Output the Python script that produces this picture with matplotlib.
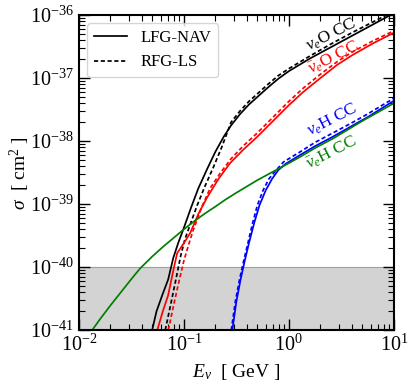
import numpy as np
import matplotlib
matplotlib.use("Agg")
import matplotlib.pyplot as plt

plt.rcParams['font.family'] = ['Liberation Serif', 'DejaVu Serif']
plt.rcParams['mathtext.fontset'] = 'custom'
plt.rcParams['mathtext.rm'] = 'Liberation Serif'
plt.rcParams['mathtext.it'] = 'Liberation Serif:italic'
plt.rcParams['mathtext.bf'] = 'Liberation Serif:bold'

# ---- data: log10(E/GeV), log10(sigma/cm^2) ----
nueO_lfg_logE = [-1.302, -1.26, -1.2, -1.15, -1.1, -1.05, -1.007, -0.93, -0.862, -0.78, -0.7, -0.62, -0.55, -0.464, -0.38, -0.3, -0.2, -0.1, 0.0, 0.2, 0.4, 0.6, 0.8, 1.0]
nueO_lfg_logS = [-41.0, -40.7, -40.42, -40.2, -39.85, -39.6, -39.41, -39.05, -38.75, -38.45, -38.17, -37.93, -37.75, -37.57, -37.42, -37.3, -37.15, -37.01, -36.89, -36.69, -36.51, -36.33, -36.15, -35.97]
nueO_rfg_logE = [-1.177, -1.12, -1.07, -1.03, -0.99, -0.93, -0.873, -0.8, -0.72, -0.64, -0.55, -0.464, -0.38, -0.3, -0.2, -0.1, 0.0, 0.2, 0.4, 0.6, 0.8, 1.0]
nueO_rfg_logS = [-41.0, -40.55, -40.15, -39.82, -39.56, -39.28, -39.02, -38.72, -38.42, -38.1, -37.7, -37.52, -37.37, -37.25, -37.1, -36.96, -36.85, -36.65, -36.46, -36.28, -36.11, -35.94]

anueO_lfg_logE = [-1.253, -1.2, -1.15, -1.1, -1.064, -1.0, -0.94, -0.86, -0.777, -0.67, -0.56, -0.43, -0.3, -0.15, 0.0, 0.137, 0.3, 0.46, 0.6, 0.8, 1.0]
anueO_lfg_logS = [-41.0, -40.7, -40.45, -40.05, -39.78, -39.62, -39.46, -39.15, -38.89, -38.6, -38.35, -38.13, -37.93, -37.68, -37.43, -37.22, -37.0, -36.79, -36.64, -36.45, -36.28]
anueO_rfg_logE = [-1.148, -1.09, -1.044, -1.0, -0.95, -0.91, -0.83, -0.75, -0.65, -0.55, -0.43, -0.3, -0.15, 0.0, 0.137, 0.3, 0.46, 0.6, 0.8, 1.0]
anueO_rfg_logS = [-41.0, -40.55, -40.21, -39.9, -39.62, -39.41, -39.05, -38.75, -38.5, -38.28, -38.07, -37.87, -37.62, -37.37, -37.16, -36.94, -36.74, -36.59, -36.41, -36.25]

nueH_lfg_logE = [-0.538, -0.5, -0.46, -0.42, -0.38, -0.33, -0.28, -0.22, -0.16, -0.1, -0.03, 0.108, 0.25, 0.42, 0.6, 0.75, 1.0]
nueH_lfg_logS = [-41.0, -40.55, -40.2, -39.9, -39.62, -39.3, -39.02, -38.78, -38.6, -38.46, -38.36, -38.22, -38.08, -37.93, -37.76, -37.62, -37.36]
nueH_rfg_logE = [-0.548, -0.51, -0.47, -0.43, -0.39, -0.345, -0.3, -0.245, -0.19, -0.12, -0.05, 0.108, 0.25, 0.42, 0.6, 0.75, 1.0]
nueH_rfg_logS = [-41.0, -40.55, -40.2, -39.9, -39.62, -39.3, -39.02, -38.78, -38.6, -38.46, -38.33, -38.17, -38.02, -37.87, -37.71, -37.57, -37.32]

anueH_logE = [-1.873, -1.8, -1.7, -1.6, -1.5, -1.416, -1.3, -1.2, -1.1, -1.007, -0.9, -0.8, -0.7, -0.605, -0.5, -0.4, -0.3, -0.2, -0.1, 0.0, 0.108, 0.25, 0.42, 0.7, 1.0]
anueH_logS = [-41.0, -40.83, -40.61, -40.4, -40.19, -40.02, -39.83, -39.68, -39.54, -39.41, -39.27, -39.15, -39.04, -38.93, -38.82, -38.72, -38.62, -38.53, -38.44, -38.35, -38.25, -38.11, -37.96, -37.68, -37.4]

band_low, band_high = 1e-41, 1e-40

labels = [r"$\nu_e$O CC", r"$\bar{\nu}_e$O CC", r"$\nu_e$H CC", r"$\bar{\nu}_e$H CC"]
label_pos = [(2.53, 4.82e-37), (2.64, 2.08e-37), (2.6, 2.2e-38), (2.55, 6.5e-39)]
colors = ['black', 'red', 'blue', 'green']

fig = plt.figure(figsize=(4.15, 3.87), dpi=100)
ax = fig.add_axes([0.19, 0.147, 0.759, 0.814])

ax.axhspan(band_low, band_high, facecolor='#d3d3d3', edgecolor='#a0a0a0', lw=0.8, zorder=0)

DASH = (0, (2.4, 1.5))

def p(lx, ly, c, ls, label=None):
    ax.plot(10**np.array(lx), 10**np.array(ly), color=c, ls=ls, lw=1.25, label=label)

p(nueO_lfg_logE, nueO_lfg_logS, 'black', '-', 'LFG-NAV')
p(nueO_rfg_logE, nueO_rfg_logS, 'black', DASH, 'RFG-LS')
p(anueO_lfg_logE, anueO_lfg_logS, 'red', '-')
p(anueO_rfg_logE, anueO_rfg_logS, 'red', DASH)
p(nueH_lfg_logE, nueH_lfg_logS, 'blue', '-')
p(nueH_rfg_logE, nueH_rfg_logS, 'blue', DASH)
p(anueH_logE, anueH_logS, 'green', '-')

for t, (x, y), c in zip(labels, label_pos, colors):
    ax.text(x, y, t, color=c, fontsize=12.5, rotation=27, ha='center', va='center')

ax.set_xscale('log')
ax.set_yscale('log')
ax.set_xlim(1e-2, 1e1)
ax.set_ylim(1e-41, 1e-36)
ax.tick_params(which='both', direction='in', top=True, right=True, labelsize=14.5)
ax.tick_params(which='major', length=8, width=1)
ax.tick_params(which='minor', length=4, width=0.8)
ax.yaxis.set_minor_locator(matplotlib.ticker.LogLocator(base=10, subs=np.arange(2, 10), numticks=20))
ax.xaxis.set_minor_locator(matplotlib.ticker.LogLocator(base=10, subs=np.arange(2, 10), numticks=20))
ax.yaxis.set_minor_formatter(matplotlib.ticker.NullFormatter())
ax.xaxis.set_minor_formatter(matplotlib.ticker.NullFormatter())
for s in ax.spines.values():
    s.set_linewidth(1.5)

ax.set_xlabel(r"$E_\nu$  [ GeV ]", fontsize=14)
ax.set_ylabel(r"$\sigma$  [ cm$^2$ ]", fontsize=14)
ax.yaxis.set_label_coords(-0.148, 0.5)

leg = ax.legend(loc='upper left', fontsize=12, handlelength=2.0, frameon=True, fancybox=True)
leg.get_frame().set_edgecolor('#cccccc')

fig.savefig('out.png', dpi=100)
